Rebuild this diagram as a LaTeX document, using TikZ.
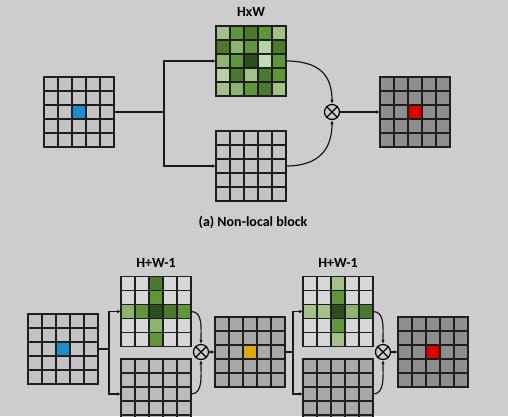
\documentclass[tikz,border=0pt]{standalone}
\usepackage{fontspec}
\setmainfont{Carlito}
\usetikzlibrary{arrows.meta}

\definecolor{bgc}{HTML}{CDCDCD}
\definecolor{gridc}{HTML}{1E1E1E}
\definecolor{lgray}{HTML}{C3C3C3}
\definecolor{wgray}{HTML}{D7D7D7}
\definecolor{bgray}{HTML}{BCBCBC}
\definecolor{mgray}{HTML}{A8A8A8}
\definecolor{dgray}{HTML}{8E8E8E}
\definecolor{cblue}{HTML}{1A8FC9}
\definecolor{corange}{HTML}{E0A800}
\definecolor{cred}{HTML}{E00000}
\definecolor{ga}{HTML}{2E4D1D}
\definecolor{gb}{HTML}{4A7A2D}
\definecolor{gc}{HTML}{5E9739}
\definecolor{gd}{HTML}{8DB46E}
\definecolor{ge}{HTML}{A3C288}
\definecolor{gf}{HTML}{B8D1A5}
\definecolor{gg}{HTML}{C4D9B6}

\tikzset{
  fmapbox/.style={rectangle,minimum width=70pt,minimum height=70pt,inner sep=0pt,outer sep=0pt},
  gridline/.style={draw=gridc,line width=1.4pt},
  conn/.style={draw=black!90,line width=1.2pt},
  arr/.style={conn,-{Latex[length=4pt,width=3.5pt]}},
  mult/.style={circle,draw=black,line width=1.2pt,minimum size=15pt,inner sep=0pt,fill=bgc},
  lbl/.style={font=\fontsize{14}{16}\selectfont\bfseries,text=black}
}

% feature map: name, centre, base colour, list of column/row/colour
\newcommand{\fmap}[4]{%
  \node[fmapbox,fill=#3] (#1) at (#2) {};
  \foreach \i/\j/\col in {#4} {
    \fill[fill=\col] ([xshift=\i*14pt,yshift=-\j*14pt]#1.north west) rectangle ++(14pt,-14pt);
  }
  \foreach \k in {1,...,4} {
    \draw[gridline] ([xshift=\k*14pt]#1.north west) -- ([xshift=\k*14pt]#1.south west);
    \draw[gridline] ([yshift=-\k*14pt]#1.north west) -- ([yshift=-\k*14pt]#1.north east);
  }
  \node[fmapbox,gridline] at (#1) {};
}

% otimes
\newcommand{\otimesnode}[2]{%
  \node[mult] (#1) at (#2) {};
  \draw[line width=1.2pt] (#1.north east) -- (#1.south west) (#1.north west) -- (#1.south east);
}

\begin{document}
\begin{tikzpicture}[x=1pt,y=-1pt]
    \useasboundingbox (0,0) rectangle (508,416);
    \fill[bgc] (0,0) rectangle (508,416);

    % (a) non-local block
    \fmap{in1}{79,112}{lgray}{2/2/cblue}
    \fmap{att1}{251,61}{gc}{0/0/ge,1/0/gc,2/0/gb,3/0/gc,4/0/ge,
      0/1/gb,1/1/gd,2/1/gc,3/1/gf,4/1/gb,
      0/2/gd,1/2/gc,2/2/ga,3/2/gg,4/2/gc,
      0/3/gf,1/3/gb,2/3/ge,3/3/gb,4/3/gc,
      0/4/ge,1/4/gd,2/4/gc,3/4/gb,4/4/ge}
    \fmap{val1}{251,166}{lgray}{2/2/lgray}
    \fmap{out1}{415,112}{dgray}{2/2/cred}
    \otimesnode{m1}{332,112}

    \node[lbl] (hw) at (251,12) {HxW};

    \coordinate (s1) at (164,112);
    \draw[conn] (in1.east) -- (s1);
    \draw[arr] (s1) |- (att1.west);
    \draw[arr] (s1) |- (val1.west);
    \draw[arr] (att1.east) .. controls +(34,0) and +(0,-28) .. (m1.north);
    \draw[arr] (val1.east) .. controls +(34,0) and +(0,28) .. (m1.south);
    \draw[arr] (m1.east) -- (out1.west);

    \node[lbl] (capa) at (253,222) {(a) Non-local block};

    % criss-cross block
    \fmap{in2}{63,349}{lgray}{2/2/cblue}
    \fmap{att2}{156,311.5}{wgray}{2/0/gb,2/1/gc,2/3/gd,2/4/gc,
      0/2/gd,1/2/gc,2/2/ga,3/2/gb,4/2/gc}
    \fmap{val2}{156,394}{bgray}{2/2/bgray}
    \otimesnode{m2}{201,352}
    \fmap{mid}{250,352}{mgray}{2/2/corange}
    \fmap{att3}{338,311.5}{wgray}{2/0/ge,2/1/gc,2/3/gc,2/4/ge,
      0/2/ge,1/2/ge,2/2/ga,3/2/gd,4/2/gb}
    \fmap{val3}{338,394}{mgray}{2/2/mgray}
    \otimesnode{m3}{383,352}
    \fmap{out2}{433,352}{dgray}{2/2/cred}

    \node[lbl] (hw2) at (156,263) {H+W-1};
    \node[lbl] (hw3) at (338,263) {H+W-1};

    \coordinate (s2) at (109,349);
    \draw[conn] (in2.east) -- (s2);
    \draw[arr] (s2) |- (att2.west);
    \draw[arr] (s2) |- (val2.west);
    \draw[arr] (att2.east) .. controls +(12,0) and +(0,-16) .. (m2.north);
    \draw[arr] (val2.east) .. controls +(12,0) and +(0,16) .. (m2.south);
    \draw[arr] (m2.east) -- (mid.west);

    \coordinate (s3) at (293,352);
    \draw[conn] (mid.east) -- (s3);
    \draw[arr] (s3) |- (att3.west);
    \draw[arr] (s3) |- (val3.west);
    \draw[arr] (att3.east) .. controls +(12,0) and +(0,-16) .. (m3.north);
    \draw[arr] (val3.east) .. controls +(12,0) and +(0,16) .. (m3.south);
    \draw[arr] (m3.east) -- (out2.west);

\end{tikzpicture}
\end{document}
